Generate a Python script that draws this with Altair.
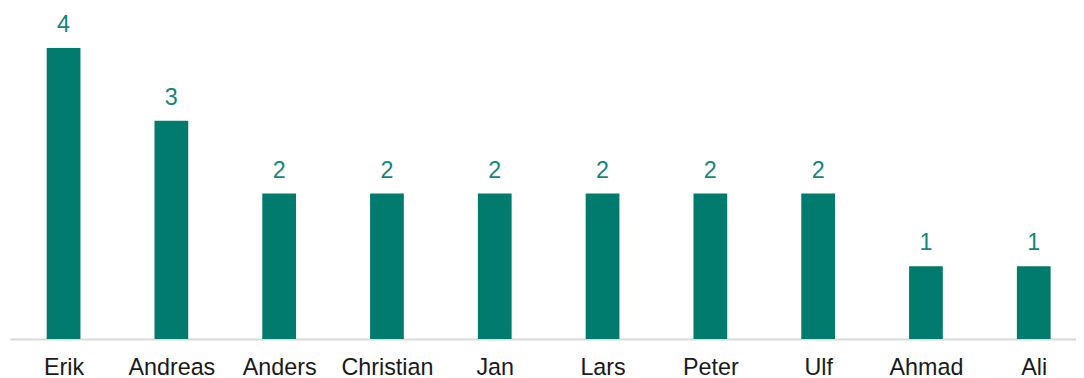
import altair as alt
import pandas as pd

names = ["Erik", "Andreas", "Anders", "Christian", "Jan", "Lars", "Peter", "Ulf", "Ahmad", "Ali"]
counts = [4, 3, 2, 2, 2, 2, 2, 2, 1, 1]

df = pd.DataFrame({"idx": list(range(len(names))), "name": names, "count": counts})

FONT = "Liberation Sans"
BAR = "#007b6d"
LABEL = "#13877a"

name_list = "[" + ",".join(f"'{n}'" for n in names) + "]"

x = alt.X(
    "idx:Q",
    title=None,
    scale=alt.Scale(domain=[-0.497, 9.392], nice=False, zero=False, padding=0),
    axis=alt.Axis(
        values=list(range(len(names))),
        labelExpr=f"{name_list}[datum.value]",
        labelAngle=0,
        labelFontSize=23.5,
        labelFont=FONT,
        labelColor="#1a1a1a",
        labelPadding=17,
        labelFlush=False,
        labelOverlap=False,
        ticks=False,
        domainColor="#d9d9d9",
        domainWidth=2,
        grid=False,
    ),
)
y = alt.Y("count:Q", axis=None, scale=alt.Scale(domain=[0, 4], nice=False))

bars = alt.Chart(df).mark_bar(color=BAR, size=34).encode(x=x, y=y)
labels = alt.Chart(df).mark_text(
    baseline="alphabetic", dy=-16, fontSize=23.5, font=FONT, color=LABEL
).encode(x=x, y=y, text="count:Q")

chart = (
    alt.layer(bars, labels)
    .properties(
        width=1074,
        height=293,
        autosize=alt.AutoSizeParams(type="none"),
        padding={"left": 2, "top": 39, "right": 0, "bottom": 38},
    )
    .configure_view(stroke=None)
)

chart.save("out.html", embed_options={"renderer": "svg", "actions": False})
